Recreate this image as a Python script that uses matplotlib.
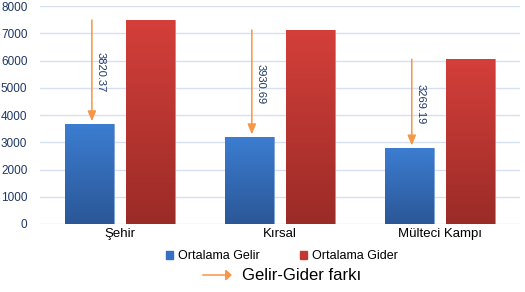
import numpy as np
import matplotlib.pyplot as plt
from matplotlib.colors import LinearSegmentedColormap

plt.rcParams['font.family'] = ['Liberation Sans', 'DejaVu Sans']

# Data
categories = ['Şehir', 'Kırsal', 'Mülteci Kampı']
gelir = [3670, 3190, 2780]
gider = [7490.37, 7120.69, 6049.19]
farklar = ['3820.37', '3930.69', '3269.19']
yticks = [0, 1000, 2000, 3000, 4000, 5000, 6000, 7000, 8000]

blue_cmap = LinearSegmentedColormap.from_list('b', ['#2B5797', '#3C7DD1'])
red_cmap = LinearSegmentedColormap.from_list('r', ['#9B2B27', '#D43F3A'])
orange = '#F79646'
tick_col = '#1F3864'

fig = plt.figure(figsize=(5.25, 2.92), dpi=100)
ax = fig.add_axes([0.076, 0.233, 0.914, 0.746])

x = np.arange(len(categories))
w = 0.305
off = 0.19

b1 = ax.bar(x - off, gelir, w, color='#3471C0', edgecolor='#7FA3D6', linewidth=0.6, zorder=2)
b2 = ax.bar(x + off, gider, w, color='#C33733', edgecolor='#D98280', linewidth=0.6, zorder=2)

# vertical gradient fill inside each bar
grad = np.linspace(0, 1, 256).reshape(-1, 1)
for bars, cmap in [(b1, blue_cmap), (b2, red_cmap)]:
    for p in bars:
        x0, y0 = p.get_x(), p.get_y()
        im = ax.imshow(grad, cmap=cmap, origin='lower', aspect='auto',
                       extent=[x0, x0 + p.get_width(), y0, y0 + p.get_height()], zorder=2.5)
        im.set_clip_path(p)

# difference arrows
for i in range(len(categories)):
    ax_x = x[i] - off + 0.015
    ax.annotate('', xy=(ax_x, gelir[i] + 100), xytext=(ax_x, gider[i]),
                arrowprops=dict(arrowstyle='-|>,head_length=0.6,head_width=0.25',
                                color=orange, lw=1.1, shrinkA=0, shrinkB=0), zorder=4)
    ax.annotate(farklar[i], xy=(ax_x, (gelir[i] + gider[i]) / 2),
                xytext=(3, 0), textcoords='offset points', rotation=270,
                ha='left', va='center', fontsize=8, color=tick_col, zorder=5)

ax.set_xlim(-0.5, 2.5)
ax.set_ylim(0, 8000)
ax.set_yticks(yticks)
ax.set_xticks(x)
ax.set_xticklabels(categories, fontsize=9.5)
ax.tick_params(axis='y', labelsize=8.5, labelcolor=tick_col, length=0, pad=9)
ax.tick_params(axis='x', length=0, pad=3)
ax.grid(axis='y', color='#D6E0F0', linewidth=1.0, zorder=0)
ax.set_axisbelow(True)
for s in ax.spines.values():
    s.set_visible(False)

# legend
h1 = plt.Rectangle((0, 0), 1, 1, color='#3471C0')
h2 = plt.Rectangle((0, 0), 1, 1, color='#C33733')
fig.legend([h1, h2], ['Ortalama Gelir', 'Ortalama Gider'], ncol=2,
           loc='center', bbox_to_anchor=(0.537, 0.123), frameon=False,
           fontsize=9, handlelength=0.6, handleheight=0.6, handletextpad=0.4,
           columnspacing=3.2)
fig.add_artist(plt.Line2D([0.387, 0.43], [0.058, 0.058], color=orange, lw=1.1))
fig.patches.append(plt.Polygon([[0.43, 0.074], [0.43, 0.042], [0.44, 0.058]],
                               closed=True, color=orange, transform=fig.transFigure))
fig.text(0.461, 0.058, 'Gelir-Gider farkı', fontsize=12, va='center', ha='left')

fig.savefig('out.png', dpi=100)
